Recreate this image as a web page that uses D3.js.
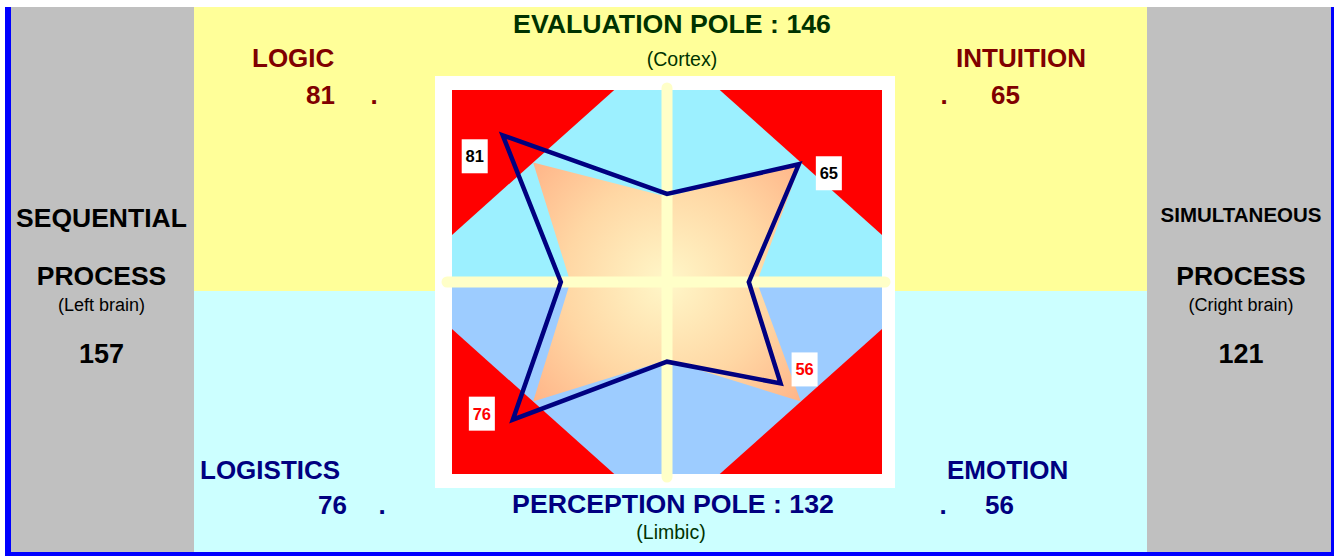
<!DOCTYPE html>
<html>
<head>
<meta charset="utf-8">
<script src="https://cdnjs.cloudflare.com/ajax/libs/d3/7.8.5/d3.min.js"></script>
<style>
body { margin: 0; background: #fff; }
text { font-family: "Liberation Sans", Arial, sans-serif; }
</style>
</head>
<body>
<script>
// Data //////////////////////////////////////////////
var quadrants      = ["LOGIC", "INTUITION", "EMOTION", "LOGISTICS"];
var quadrantScores = [81, 65, 56, 76];
var labelColors    = ["#000000", "#000000", "#ff0000", "#ff0000"];

var poleNames  = ["EVALUATION POLE", "SIMULTANEOUS", "PERCEPTION POLE", "SEQUENTIAL"];
var poleScores = [146, 121, 132, 157];
var poleNotes  = ["(Cortex)", "(Cright brain)", "(Limbic)", "(Left brain)"];

// reference (average) profile drawn as the peach star
var refScores     = [66, 66, 66, 66];
var refPoleScores = [141, 133, 129, 143];
var refLimit      = 132;   // red corners start beyond this sum
var maxScore      = 106;

// Layout ////////////////////////////////////////////
var W = 1334, H = 556;
var plot = {left: 452, right: 882, top: 90, bottom: 474};

var quadDir = [[-1, 1], [1, 1], [1, -1], [-1, -1]];
var poleDir = [[0, 1], [1, 0], [0, -1], [-1, 0]];

// where quadrant texts go: name x, name anchor, value x, value anchor, dot x, baselines
var quadText = [
	{nx: 252, na: "start", vx: 335, va: "end",   dx: 374, ny: 66.5, vy: 104, color: "#800000"},
	{nx: 956, na: "start", vx: 991, va: "start", dx: 944, ny: 66.5, vy: 104, color: "#800000"},
	{nx: 947, na: "start", vx: 985, va: "start", dx: 943, ny: 479, vy: 514, color: "#000080"},
	{nx: 200, na: "start", vx: 347, va: "end",   dx: 382, ny: 479, vy: 514, color: "#000080"}
];
var labelOffsets = [[-28, 21], [30, 9], [24, -14], [-31, -6]];

var svg = d3.select("body")
			.append("svg")
				.attr("width", W)
				.attr("height", H);

var defs = svg.append("defs");

defs.append("clipPath")
	.attr("id", "plotClip")
	.append("rect")
		.attr("x", plot.left)
		.attr("y", plot.top)
		.attr("width", plot.right - plot.left)
		.attr("height", plot.bottom - plot.top);

var grad = defs.append("radialGradient")
	.attr("id", "peach")
	.attr("gradientUnits", "userSpaceOnUse")
	.attr("cx", 667).attr("cy", 282).attr("r", 185);
grad.append("stop").attr("offset", "0%").attr("stop-color", "#fff7c8");
grad.append("stop").attr("offset", "55%").attr("stop-color", "#ffd7a4");
grad.append("stop").attr("offset", "100%").attr("stop-color", "#ffb286");

// Page background ///////////////////////////////////
svg.append("rect").attr("x", 5).attr("y", 7).attr("width", W - 5).attr("height", H - 7).attr("fill", "#0000ff");
svg.append("rect").attr("x", 11).attr("y", 7).attr("width", 183).attr("height", 545).attr("fill", "#c0c0c0");
svg.append("rect").attr("x", 1147).attr("y", 7).attr("width", 184).attr("height", 545).attr("fill", "#c0c0c0");
svg.append("rect").attr("x", 194).attr("y", 7).attr("width", 953).attr("height", 284).attr("fill", "#ffff99");
svg.append("rect").attr("x", 194).attr("y", 291).attr("width", 953).attr("height", 261).attr("fill", "#ccffff");

// chart frame
svg.append("rect").attr("x", 435).attr("y", 76).attr("width", 460).attr("height", 412).attr("fill", "#ffffff");

// Scales ////////////////////////////////////////////
var xScale = d3.scaleLinear()
		.domain([-maxScore, maxScore])
		.range([plot.left, plot.right]);

var yScale = d3.scaleLinear()
		.domain([-maxScore, maxScore])
		.range([plot.bottom, plot.top]);

var line = d3.line()
		.x(function(d){ return xScale(d[0]); })
		.y(function(d){ return yScale(d[1]); })
		.curve(d3.curveLinearClosed);

var g = svg.append("g").attr("clip-path", "url(#plotClip)");

g.append("rect")
	.attr("x", plot.left).attr("y", plot.top)
	.attr("width", plot.right - plot.left).attr("height", plot.bottom - plot.top)
	.attr("fill", "#ff0000");

g.append("path")
	.attr("d", line([[-refLimit, 0], [0, refLimit], [refLimit, 0]]))
	.attr("fill", "#9cf0ff");

g.append("path")
	.attr("d", line([[-refLimit, 0], [0, -refLimit], [refLimit, 0]]))
	.attr("fill", "#9dccff");

// star points: quadrant tip then the pole that follows it
function starPoints(scores, poles)
{
	var pts = [];
	scores.forEach(function(s, i)
	{
		pts.push([quadDir[i][0] * s, quadDir[i][1] * s]);
		pts.push([poleDir[i][0] * poles[i] / 3, poleDir[i][1] * poles[i] / 3]);
	});
	return pts;
}

svg.append("path")
	.attr("d", line(starPoints(refScores, refPoleScores)))
	.attr("fill", "url(#peach)");

// cross
svg.append("line")
	.attr("x1", xScale(0)).attr("x2", xScale(0))
	.attr("y1", plot.top - 2).attr("y2", plot.bottom + 3)
	.attr("stroke", "#ffffc8").attr("stroke-width", 11).attr("stroke-linecap", "round");

svg.append("line")
	.attr("x1", plot.left - 5).attr("x2", plot.right + 3)
	.attr("y1", yScale(0)).attr("y2", yScale(0))
	.attr("stroke", "#ffffc8").attr("stroke-width", 11).attr("stroke-linecap", "round");

// subject profile
svg.append("path")
	.attr("d", line(starPoints(quadrantScores, poleScores)))
	.attr("fill", "none")
	.attr("stroke", "#000080")
	.attr("stroke-width", 4.5)
	.attr("stroke-linejoin", "miter");

// value boxes at the tips
var tipLabels = svg.selectAll(".tip")
	.data(quadrantScores)
	.enter()
	.append("g")
		.attr("class", "tip")
		.attr("transform", function(d, i){
			var cx = xScale(quadDir[i][0] * d) + labelOffsets[i][0];
			var cy = yScale(quadDir[i][1] * d) + labelOffsets[i][1];
			return "translate(" + cx + "," + cy + ")";
		});

tipLabels.append("rect")
	.attr("x", -13).attr("y", -17).attr("width", 26).attr("height", 34)
	.attr("fill", "#ffffff");

tipLabels.append("text")
	.attr("text-anchor", "middle")
	.attr("y", 6)
	.attr("font-size", 16.5)
	.attr("font-weight", "bold")
	.attr("fill", function(d, i){ return labelColors[i]; })
	.text(function(d){ return d; });

// Quadrant texts ////////////////////////////////////
quadrants.forEach(function(q, i)
{
	var t = quadText[i];
	svg.append("text")
		.attr("x", t.nx).attr("y", t.ny)
		.attr("text-anchor", t.na)
		.attr("font-size", 26).attr("font-weight", "bold")
		.attr("fill", t.color)
		.text(q);
	svg.append("text")
		.attr("x", t.vx).attr("y", t.vy)
		.attr("text-anchor", t.va)
		.attr("font-size", 26).attr("font-weight", "bold")
		.attr("fill", t.color)
		.text(quadrantScores[i]);
	svg.append("text")
		.attr("x", t.dx).attr("y", t.vy)
		.attr("text-anchor", "middle")
		.attr("font-size", 26).attr("font-weight", "bold")
		.attr("fill", t.color)
		.text(".");
});

// Pole texts ////////////////////////////////////////
// top and bottom poles
[[0, 672, 33, 682, 66, "#003300"], [2, 673, 513, 671, 539, "#000080"]].forEach(function(p)
{
	svg.append("text")
		.attr("x", p[1]).attr("y", p[2])
		.attr("text-anchor", "middle")
		.attr("font-size", 26.7).attr("font-weight", "bold")
		.attr("fill", p[5])
		.text(poleNames[p[0]] + " : " + poleScores[p[0]]);
	svg.append("text")
		.attr("x", p[3]).attr("y", p[4])
		.attr("text-anchor", "middle")
		.attr("font-size", 19.5)
		.attr("fill", "#003300")
		.text(poleNotes[p[0]]);
});

// side poles
[[3, 101.5, 26.5, 226.5], [1, 1241, 20.5, 221.5]].forEach(function(p)
{
	var cx = p[1];
	svg.append("text")
		.attr("x", cx).attr("y", p[3])
		.attr("text-anchor", "middle")
		.attr("font-size", p[2]).attr("font-weight", "bold")
		.text(poleNames[p[0]]);
	svg.append("text")
		.attr("x", cx).attr("y", 285)
		.attr("text-anchor", "middle")
		.attr("font-size", 26.5).attr("font-weight", "bold")
		.text("PROCESS");
	svg.append("text")
		.attr("x", cx).attr("y", 311)
		.attr("text-anchor", "middle")
		.attr("font-size", 18)
		.text(poleNotes[p[0]]);
	svg.append("text")
		.attr("x", cx).attr("y", 362.5)
		.attr("text-anchor", "middle")
		.attr("font-size", 27).attr("font-weight", "bold")
		.text(poleScores[p[0]]);
});
</script>
</body>
</html>
